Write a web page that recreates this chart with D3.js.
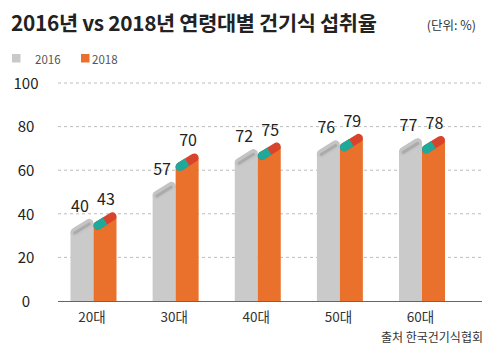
<!DOCTYPE html>
<html><head><meta charset="utf-8">
<script src="https://cdn.jsdelivr.net/npm/d3@7"></script>
<style>
html,body{margin:0;padding:0;background:#fff;}
svg{display:block;font-family:"Noto Sans CJK KR","Noto Sans",sans-serif;}
</style></head>
<body>
<svg id="chart" width="495" height="359"></svg>
<script>
const categories = ["20대","30대","40대","50대","60대"];
const series2016 = [40, 57, 72, 76, 77];
const series2018 = [43, 70, 75, 79, 78];
const seriesNames = ["2016","2018"];
const yTicks = [0, 20, 40, 60, 80, 100];
const titleText = "2016년 vs 2018년 연령대별 건기식 섭취율";
const unitText = "(단위: %)";
const sourceText = "출처 한국건기식협회";

const svg = d3.select("#chart");
const W = 495, H = 359;
const baseY = 301, topY = 83;
const y = d3.scaleLinear().domain([0, 100]).range([baseY, topY]);
const x = d3.scalePoint().domain(categories).range([93.5, 422]);
const sub = d3.scaleBand().domain(seriesNames).range([-23, 23]).padding(0);
const bw = sub.bandwidth();

// title
svg.append("text").attr("x", 11).attr("y", 31)
  .attr("font-size", 20.8).attr("font-weight", 700).attr("fill", "#222")
  .attr("letter-spacing", -0.3)
  .text(titleText);
svg.append("text").attr("x", 476).attr("y", 30).attr("text-anchor", "end")
  .attr("font-size", 12.5).attr("fill", "#333").text(unitText);

// legend
const legColors = {"2016": "#c9c9c9", "2018": "#ea712c"};
const legX = [12, 81];
seriesNames.forEach((s, i) => {
  svg.append("rect").attr("x", legX[i]).attr("y", 54).attr("width", 8.5).attr("height", 8.5).attr("fill", legColors[s]);
  svg.append("text").attr("x", legX[i] + (i === 0 ? 23 : 11)).attr("y", 63.5)
    .attr("font-size", 11.5).attr("fill", "#555").text(s);
});

// grid
svg.append("g").selectAll("line").data(yTicks.filter(t => t > 0)).join("line")
  .attr("x1", 58).attr("x2", 482)
  .attr("y1", d => y(d)).attr("y2", d => y(d))
  .attr("stroke", "#b5b5b5").attr("stroke-width", 0.9).attr("stroke-dasharray", "3,3");

// y axis labels
const yAxis = d3.axisLeft(y).tickValues(yTicks).tickSize(0).tickPadding(0);
const gy = svg.append("g").attr("transform", "translate(26,0)").call(yAxis);
gy.select(".domain").remove();
gy.selectAll("text").attr("text-anchor", "middle").attr("font-size", 15)
  .attr("fill", "#222").attr("font-family", '"Noto Sans CJK KR","Noto Sans",sans-serif')
  .attr("dy", "0.35em");

// bars
const data = categories.map((c, i) => ({c, vals: [
  {s: "2016", v: series2016[i]}, {s: "2018", v: series2018[i]}]}));

const slope = 9, capW = 8.5, off = 5;
data.forEach(d => {
  d.vals.forEach(e => {
    const x0 = x(d.c) + sub(e.s), x1 = x0 + bw;
    const yv = y(e.v);
    const yr = yv + off + capW / 2;
    const yl = yr + slope;
    const body = e.s === "2016" ? "#cacaca" : "#ea712c";
    svg.append("path")
      .attr("d", d3.line()([[x0, baseY], [x0, yl], [x1, yr], [x1, baseY]]) + "Z")
      .attr("fill", body);
    const ax = x0 + capW / 2, bx = x1 - capW / 2;
    if (e.s === "2016") {
      svg.append("line").attr("x1", ax).attr("y1", yl).attr("x2", bx).attr("y2", yr)
        .attr("stroke", "#c4c4c4").attr("stroke-width", capW).attr("stroke-linecap", "round");
      svg.append("line").attr("x1", ax).attr("y1", yl + 1).attr("x2", bx).attr("y2", yr + 1)
        .attr("stroke", "#ababab").attr("stroke-width", 3).attr("stroke-linecap", "round");
    } else {
      const mx = (ax + bx) / 2, my = (yl + yr) / 2;
      svg.append("line").attr("x1", ax).attr("y1", yl).attr("x2", bx).attr("y2", yr)
        .attr("stroke", "#d8432b").attr("stroke-width", capW).attr("stroke-linecap", "round");
      svg.append("line").attr("x1", ax).attr("y1", yl).attr("x2", mx).attr("y2", my)
        .attr("stroke", "#1ea99a").attr("stroke-width", capW).attr("stroke-linecap", "butt");
      svg.append("circle").attr("cx", ax).attr("cy", yl).attr("r", capW / 2).attr("fill", "#1ea99a");
    }
    svg.append("text")
      .attr("x", (x0 + x1) / 2 + (e.s === "2016" ? -2 : 1))
      .attr("y", yv - 2)
      .attr("text-anchor", "middle").attr("font-size", 16).attr("fill", "#222")
      .text(e.v);
  });
});

// baseline
svg.append("line").attr("x1", 58).attr("x2", 482).attr("y1", baseY + 0.5).attr("y2", baseY + 0.5)
  .attr("stroke", "#666").attr("stroke-width", 1.2);

// x axis labels
const xAxis = d3.axisBottom(x).tickSize(0).tickPadding(0);
const gx = svg.append("g").attr("transform", `translate(-2,${baseY + 11})`).call(xAxis);
gx.select(".domain").remove();
gx.selectAll("text").attr("font-size", 13.5).attr("fill", "#333")
  .attr("font-family", '"Noto Sans CJK KR","Noto Sans",sans-serif');

// source
svg.append("text").attr("x", 483).attr("y", 342).attr("text-anchor", "end")
  .attr("font-size", 12).attr("fill", "#333").text(sourceText);
</script>
</body></html>
